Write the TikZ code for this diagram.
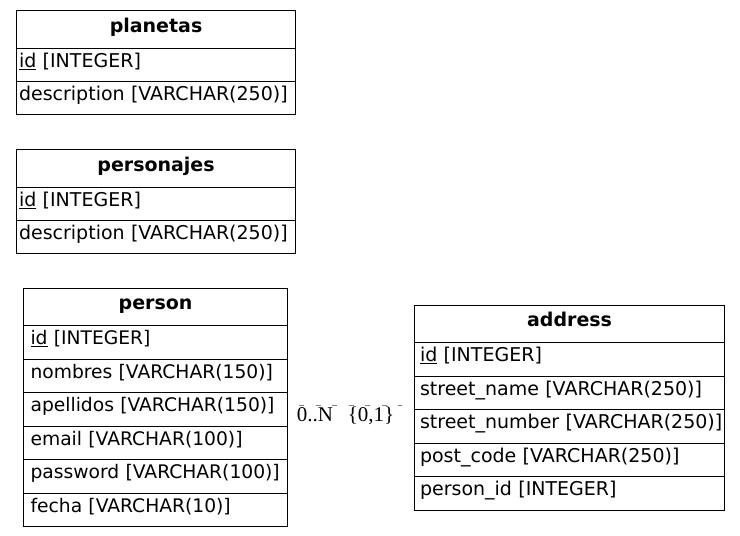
\documentclass[tikz,border=0pt]{standalone}
\usepackage{fontspec}
\setmainfont{DejaVu Sans}
\newfontfamily\cardfont{Liberation Serif}
\begin{document}
\begin{tikzpicture}[x=1pt,y=-1pt,
  cell/.style={draw=black, line width=1.1pt, anchor=north west, inner ysep=0pt,
    font=\fontsize{19}{22}\selectfont, text height=0.72em, text depth=0.22em},
  headcell/.style={cell, font=\fontsize{19}{22}\selectfont\bfseries, align=center},
  rowcell/.style={cell, align=left, inner xsep=2pt},
  narrowrow/.style={rowcell, font=\fontsize{18.7}{22}\selectfont},
  card/.style={font=\cardfont\fontsize{21}{23}\selectfont, inner sep=0pt, anchor=base},
  rel/.style={draw=gray, line width=0.8pt, dash pattern=on 5pt off 11.5pt}]
\useasboundingbox (0,0) rectangle (740,536);
\fill[white] (0,0) rectangle (740,536);
% underlined primary key
\newcommand{\pkey}[1]{\underline{#1}}
% field text with a left indent, kept on one line
\newcommand{\fld}[2]{\hspace*{#1}\mbox{#2}}

% table: planetas
\node[headcell, minimum width=279, minimum height=38, text width=273, inner xsep=3pt] (planetas) at (16,10) {planetas};
\node[rowcell, minimum width=279, minimum height=33, text width=275] (planetas-id) at (16,48) {\fld{0.5pt}{\pkey{id} [INTEGER]}};
\node[rowcell, minimum width=279, minimum height=33, text width=275] (planetas-desc) at (16,81) {\fld{0.5pt}{description [VARCHAR(250)]}};

% table: personajes
\node[headcell, minimum width=279, minimum height=38, text width=273, inner xsep=3pt] (personajes) at (16,149) {personajes};
\node[rowcell, minimum width=279, minimum height=33, text width=275] (personajes-id) at (16,187) {\fld{0.5pt}{\pkey{id} [INTEGER]}};
\node[rowcell, minimum width=279, minimum height=33, text width=275] (personajes-desc) at (16,220) {\fld{0.5pt}{description [VARCHAR(250)]}};

% table: person
\node[headcell, minimum width=264, minimum height=37, text width=258, inner xsep=3pt] (person) at (23,288) {person};
\node[narrowrow, minimum width=264, minimum height=33.5, text width=260] (person-id) at (23,325) {\fld{5pt}{\pkey{id} [INTEGER]}};
\node[narrowrow, minimum width=264, minimum height=33.5, text width=260] (person-nombres) at (23,358.5) {\fld{5pt}{nombres [VARCHAR(150)]}};
\node[narrowrow, minimum width=264, minimum height=33.5, text width=260] (person-apellidos) at (23,392) {\fld{5pt}{apellidos [VARCHAR(150)]}};
\node[narrowrow, minimum width=264, minimum height=33.5, text width=260] (person-email) at (23,425.5) {\fld{5pt}{email [VARCHAR(100)]}};
\node[narrowrow, minimum width=264, minimum height=33.5, text width=260] (person-password) at (23,459) {\fld{5pt}{password [VARCHAR(100)]}};
\node[narrowrow, minimum width=264, minimum height=33.5, text width=260] (person-fecha) at (23,492.5) {\fld{5pt}{fecha [VARCHAR(10)]}};

% table: address
\node[headcell, minimum width=310, minimum height=37, text width=304, inner xsep=3pt] (address) at (414,305) {address};
\node[rowcell, minimum width=310, minimum height=33.5, text width=306] (address-id) at (414,342) {\fld{3.5pt}{\pkey{id} [INTEGER]}};
\node[rowcell, minimum width=310, minimum height=33.5, text width=306] (address-street-name) at (414,375.5) {\fld{3.5pt}{street\_name [VARCHAR(250)]}};
\node[rowcell, minimum width=310, minimum height=33.5, text width=306] (address-street-number) at (414,409) {\fld{3.5pt}{street\_number [VARCHAR(250)]}};
\node[rowcell, minimum width=310, minimum height=33.5, text width=306] (address-post-code) at (414,442.5) {\fld{3.5pt}{post\_code [VARCHAR(250)]}};
\node[rowcell, minimum width=310, minimum height=33.5, text width=306] (address-person-id) at (414,476) {\fld{3.5pt}{person\_id [INTEGER]}};

% relationship person -- address
\coordinate (relP) at (person-apellidos.east |- 0,405);
\coordinate (relA) at (address-street-number.west |- 0,405);
\draw[rel, shorten <=11pt, shorten >=12pt] (relP) -- (relA);
\node[card] (cardP) at (315,421) {0..N};
\node[card] (cardA) at (371,421) {\{0,1\}};
\end{tikzpicture}
\end{document}
